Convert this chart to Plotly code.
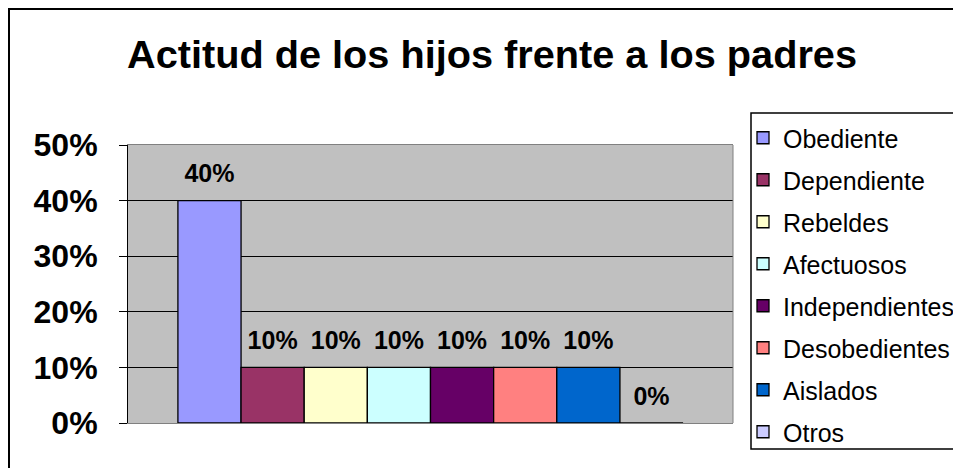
import plotly.graph_objects as go

categories = ["Obediente", "Dependiente", "Rebeldes", "Afectuosos",
              "Independientes", "Desobedientes", "Aislados", "Otros"]
values = [0.40, 0.10, 0.10, 0.10, 0.10, 0.10, 0.10, 0.00]
colors = ["#9999FF", "#993366", "#FFFFCC", "#CCFFFF",
          "#660066", "#FF8080", "#0066CC", "#CCCCFF"]
y_ticks = [0, 0.1, 0.2, 0.3, 0.4, 0.5]

FONT = "Liberation Sans, Arial, sans-serif"

# page has an 8px body margin; work in figure coordinates = page - 8
OFF = 8
W, H = 961 - OFF, 468 - OFF
L, T = 128 - OFF, 145 - OFF
R = W - (733 - OFF)
B = H - (423 - OFF)
pw, ph = W - L - R, H - T - B

def px(x):  # page px -> paper
    return (x - OFF - L) / pw

def py(y):
    return (H - B - (y - OFF)) / ph

fig = go.Figure()
for name, v, c in zip(categories, values, colors):
    fig.add_trace(go.Bar(
        x=[""], y=[v], name=name, legendgroup=name, offsetgroup=name,
        alignmentgroup="all",
        marker=dict(color=c, line=dict(color="black", width=1.3)),
    ))
for name, v in zip(categories, values):
    fig.add_trace(go.Scatter(
        x=[""], y=[v], mode="markers+text", text=[f"{v:.0%}"],
        textposition="top center", offsetgroup=name, alignmentgroup="all",
        legendgroup=name, showlegend=False,
        marker=dict(size=18, color="rgba(0,0,0,0)", line=dict(width=0)),
        textfont=dict(family=FONT, size=25, color="black", weight="bold"),
        cliponaxis=False, hoverinfo="skip",
    ))

fig.update_layout(
    width=W, height=H,
    margin=dict(l=L, r=R, t=T, b=B, pad=0, autoexpand=False),
    paper_bgcolor="white",
    plot_bgcolor="#C0C0C0",
    barmode="group", bargap=0.165, bargroupgap=0,
    scattermode="group", scattergap=0.165,
    title=dict(text="<b>Actitud de los hijos frente a los padres</b>",
               font=dict(family=FONT, size=39.7, color="black"),
               x=(492 - OFF) / W, xanchor="center", xref="container",
               y=1 - (54 - OFF) / H, yanchor="middle", yref="container"),
    showlegend=True,
    legend=dict(x=px(743), xanchor="left", y=py(115), yanchor="top",
                bgcolor="rgba(0,0,0,0)", borderwidth=0,
                font=dict(family=FONT, size=25, color="black"),
                traceorder="grouped", tracegroupgap=6.5, maxheight=440),
    xaxis=dict(showticklabels=False, showgrid=False, zeroline=False,
               showline=True, linecolor="#808080", linewidth=1, mirror=True,
               ticks=""),
    yaxis=dict(range=[0, 0.5], tickvals=y_ticks, tickformat=".0%",
               tickfont=dict(family=FONT, size=32, color="black", weight="bold"),
               showgrid=True, gridcolor="black", gridwidth=1, zeroline=False,
               showline=True, linecolor="black", linewidth=1,
               ticks="outside", ticklen=8, tickcolor="black",
               ticklabelstandoff=15),
    shapes=[
        dict(type="line", xref="paper", yref="paper", x0=1, x1=1, y0=0, y1=1,
             line=dict(color="#808080", width=1)),
        dict(type="rect", xref="paper", yref="paper",
             x0=px(9), x1=px(990), y0=py(490), y1=py(9),
             line=dict(color="black", width=2), fillcolor="rgba(0,0,0,0)",
             layer="below"),
        dict(type="rect", xref="paper", yref="paper",
             x0=px(751), x1=px(958), y0=py(449), y1=py(113),
             line=dict(color="black", width=1.5), fillcolor="white",
             layer="below"),
    ],
)

fig.write_html("out.html")
